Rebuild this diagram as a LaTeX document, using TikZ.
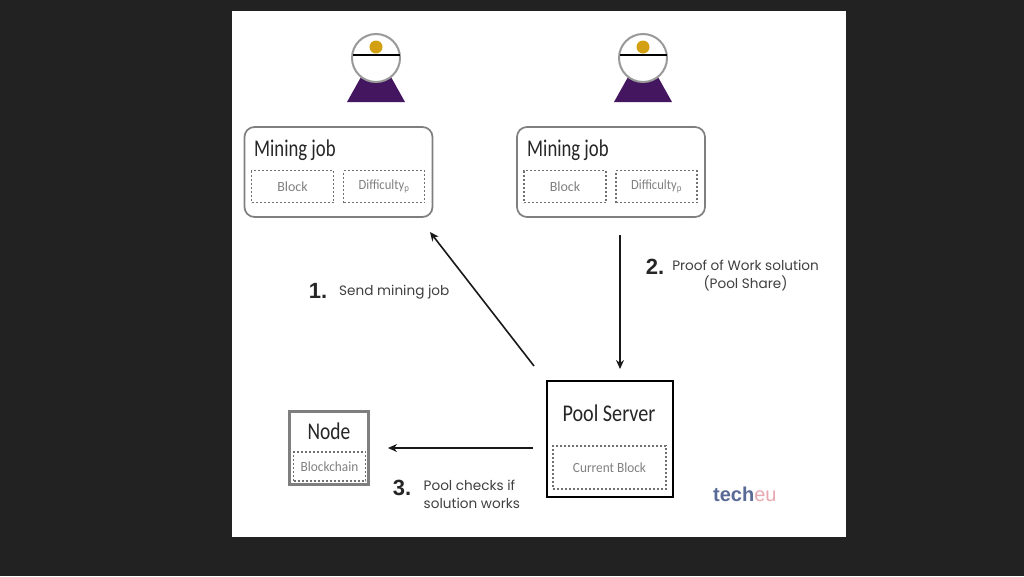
\documentclass[tikz,border=0pt]{standalone}
\usepackage{graphicx}
\usepackage{fontspec}
\setmainfont{Carlito}
\newfontfamily\geo{Poppins}
\newfontfamily\numf{Liberation Sans}
\usetikzlibrary{arrows.meta}
\definecolor{bgdark}{HTML}{222222}
\definecolor{boxgray}{HTML}{7F7F7F}
\definecolor{dotgray}{HTML}{707070}
\definecolor{txtgray}{HTML}{808080}
\definecolor{robe}{HTML}{43165F}
\definecolor{coin}{HTML}{D2A012}
\definecolor{techblue}{HTML}{5A6A96}
\definecolor{techpink}{HTML}{E8A8B0}
\tikzset{
 jobbox/.style={draw=boxgray,line width=1.7pt,rounded corners=10pt,minimum width=188pt,minimum height=90pt,inner sep=0pt},
 dotbox/.style={draw=dotgray,dash pattern=on 2pt off 2pt,line width=1.5pt,inner sep=0pt,font=\fontsize{14}{14}\selectfont,text=txtgray},
 title/.style={inner sep=0pt,font=\fontsize{24}{24}\selectfont,text=black!85},
 stepnum/.style={inner sep=0pt,font=\numf\bfseries\fontsize{22}{22}\selectfont,text=black!85},
 steptxt/.style={inner sep=0pt,font=\geo\fontsize{13.6}{18}\selectfont,text=black!75,align=center},
 flow/.style={draw=black!90,line width=1.6pt,-{Stealth[length=9pt,width=8pt]}}
}
\newcommand{\miner}[2]{%
 \begin{scope}[shift={(#1,#2)}]
  \fill[robe] (-15,19) -- (15,19) -- (29,44) -- (-29,44) -- cycle;
  \draw[draw=black!40,fill=white,line width=2pt] (0,0) circle (24);
  \fill[coin] (0,-11) circle (6.5);
  \draw[black,line width=1.8pt] (-23.5,-3) -- (23.5,-3);
 \end{scope}}
\newcommand{\sx}[2]{\scalebox{#1}[1]{#2}}
\begin{document}
\begin{tikzpicture}[x=1pt,y=-1pt]
\useasboundingbox (0,0) rectangle (1024,576);
\fill[bgdark] (0,0) rectangle (1024,576);
\fill[white] (232,11) rectangle (846,537);
\miner{376}{58}
\miner{643}{58}
% job 1
\node[jobbox] (job1) at (338.5,172) {};
\node[title,anchor=west] (job1t) at (254,150) {\sx{0.78}{Mining job}};
\node[dotbox,minimum width=82pt,minimum height=32pt] (blk1) at (292.5,186.5) {Block};
\node[dotbox,minimum width=81pt,minimum height=32pt] (dif1) at (384,186.5) {\sx{0.9}{Difficulty\textsubscript{p}}};
% job 2
\node[jobbox] (job2) at (611,172) {};
\node[title,anchor=west] (job2t) at (527,150) {\sx{0.78}{Mining job}};
\node[dotbox,minimum width=82pt,minimum height=32pt] (blk2) at (565,186.5) {Block};
\node[dotbox,minimum width=81pt,minimum height=32pt] (dif2) at (656.5,186.5) {\sx{0.9}{Difficulty\textsubscript{p}}};
% pool
\node[draw=black,line width=2pt,minimum width=126pt,minimum height=116pt,inner sep=0pt] (pool) at (610,439) {};
\node[title] (poolt) at (609,413.5) {\sx{0.84}{Pool Server}};
\node[dotbox,minimum width=113pt,minimum height=43pt] (cur) at (609.5,467.5) {\sx{0.95}{Current Block}};
% node
\node[draw=boxgray,line width=2.4pt,minimum width=79pt,minimum height=73pt,inner sep=0pt] (nd) at (329,448) {};
\node[title] (ndt) at (329,431.5) {\sx{0.81}{Node}};
\node[dotbox,minimum width=72pt,minimum height=29pt] (bc) at (329.5,466.5) {\sx{0.95}{Blockchain}};
% connectors
\coordinate (a1s) at (534,366);
\coordinate (a1e) at (430,232);
\coordinate (a2s) at (620,235);
\coordinate (a2e) at (620,369);
\coordinate (a3s) at (533,448);
\coordinate (a3e) at (388,448);
\draw[flow] (a1s) -- (a1e);
\draw[flow] (a2s) -- (a2e);
\draw[flow] (a3s) -- (a3e);
% labels
\node[stepnum] (n1) at (318,291) {1.};
\node[steptxt,anchor=west] (l1) at (339,292) {Send mining job};
\node[stepnum] (n2) at (655,267) {2.};
\node[steptxt] (l2) at (745.5,275.5) {Proof of Work solution\\(Pool Share)};
\node[stepnum] (n3) at (402,488) {3.};
\node[steptxt,align=left,anchor=west] (l3) at (423.5,494.5) {Pool checks if\\solution works};
\node[inner sep=0pt,anchor=west] (tech) at (713,494) {\numf\fontsize{20}{20}\selectfont\textcolor{techblue}{\bfseries tech}\textcolor{techpink}{eu}};
\end{tikzpicture}
\end{document}
